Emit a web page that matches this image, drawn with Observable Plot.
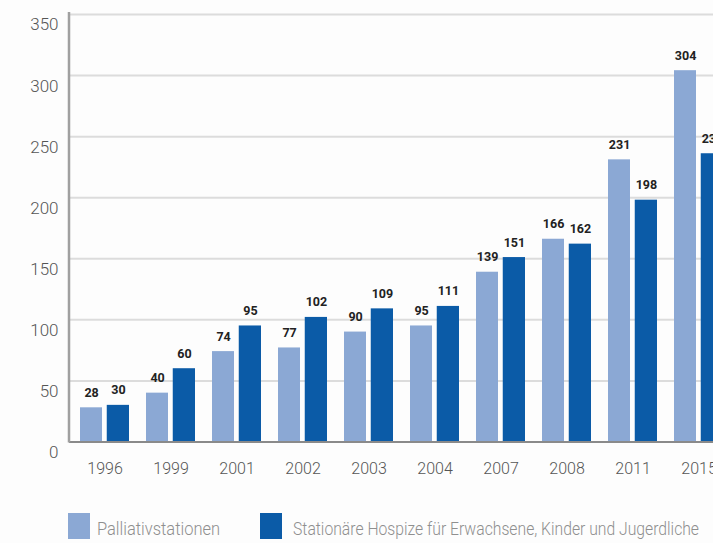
<!DOCTYPE html>
<html>
<head>
<meta charset="utf-8">
<script src="https://cdn.jsdelivr.net/npm/d3@7"></script>
<script src="https://cdn.jsdelivr.net/npm/@observablehq/plot@0.6"></script>
<style>
  html, body { margin: 0; padding: 0; background: #fdfdfd; overflow: hidden; width: 713px; height: 543px; }
  #wrap { position: relative; width: 713px; height: 543px; overflow: hidden; }
  #chart { position: absolute; left: 0; top: 0; width: 745px; }
  .lg { position: absolute; font-family: Roboto, sans-serif; font-weight: 300; font-size: 19px; color: #8f8f8f; white-space: nowrap; line-height: 1; transform-origin: 0 50%; }
  .sw { position: absolute; width: 22px; height: 26px; }
</style>
</head>
<body>
<div id="wrap">
  <div id="chart"></div>
  <div class="sw" id="sw1" style="left:68px; top:513px;"></div>
  <div class="lg" id="lg1" style="left:97px; top:519px;"></div>
  <div class="sw" id="sw2" style="left:260px; top:513px;"></div>
  <div class="lg" id="lg2" style="left:293px; top:519px;"></div>
</div>
<script>
const years = ["1996", "1999", "2001", "2002", "2003", "2004", "2007", "2008", "2011", "2015"];
const palliativ = [28, 40, 74, 77, 90, 95, 139, 166, 231, 304];
const hospize = [30, 60, 95, 102, 109, 111, 151, 162, 198, 236];
const seriesNames = ["Palliativstationen", "Stationäre Hospize für Erwachsene, Kinder und Jugerdliche"];
const yTicks = [0, 50, 100, 150, 200, 250, 300, 350];
const colors = ["#8ba8d4", "#0b5ba7"];

const font = `Roboto, sans-serif`;

const rowsA = years.map((y, i) => ({year: y, value: palliativ[i]}));
const rowsB = years.map((y, i) => ({year: y, value: hospize[i]}));

const chart = Plot.plot({
  width: 745,
  height: 485,
  marginLeft: 69,
  marginRight: 11,
  marginTop: 14,
  marginBottom: 43.5,
  style: {background: "transparent", fontFamily: font, maxWidth: "none"},
  x: {domain: years, paddingInner: 0.263, paddingOuter: 0.1316, label: null},
  y: {domain: [0, 350], label: null},
  marks: [
    Plot.ruleY(yTicks.filter(d => d > 0), {stroke: "#dcdcdc", strokeWidth: 2}),
    Plot.barY(rowsA, {x: "year", y: "value", fill: colors[0], insetRight: 27}),
    Plot.barY(rowsB, {x: "year", y: "value", fill: colors[1], insetLeft: 26.75}),
    Plot.text(rowsA, {x: "year", y: "value", text: d => String(d.value), dx: -13.4, dy: -15, fontWeight: "bold", fontSize: 12.5, fill: "#222", letterSpacing: "-0.6px"}),
    Plot.text(rowsB, {x: "year", y: "value", text: d => String(d.value), dx: 13.4, dy: -15, fontWeight: "bold", fontSize: 12.5, fill: "#222", letterSpacing: "-0.6px"}),
    Plot.ruleY([0], {stroke: "#8a8a8a", strokeWidth: 2}),
    Plot.axisY({ticks: yTicks, tickSize: 0, tickPadding: 11, dy: 10.5, fontSize: 17, fill: "#555", letterSpacing: "-1px", fontWeight: 300, tickFormat: d => String(d)}),
    Plot.axisX({tickSize: 0, tickPadding: 21, fontSize: 16, fill: "#555", letterSpacing: "-1px", fontWeight: 300})
  ]
});
document.getElementById("chart").appendChild(chart);

// vertical axis line along the left edge of the plot
const svg = d3.select(chart);
svg.append("line")
  .attr("x1", 69).attr("x2", 69)
  .attr("y1", 12).attr("y2", 442.5)
  .attr("stroke", "#a0a0a0").attr("stroke-width", 2.5);

document.getElementById("sw1").style.background = colors[0];
document.getElementById("sw2").style.background = colors[1];
const lg1 = document.getElementById("lg1");
const lg2 = document.getElementById("lg2");
lg1.textContent = seriesNames[0];
lg2.textContent = seriesNames[1];
// squeeze legend texts to the narrow widths of the reference type
[[lg1, 123], [lg2, 406]].forEach(([el, w]) => {
  const s = w / el.getBoundingClientRect().width;
  el.style.transform = `scaleX(${s})`;
});
</script>
</body>
</html>
